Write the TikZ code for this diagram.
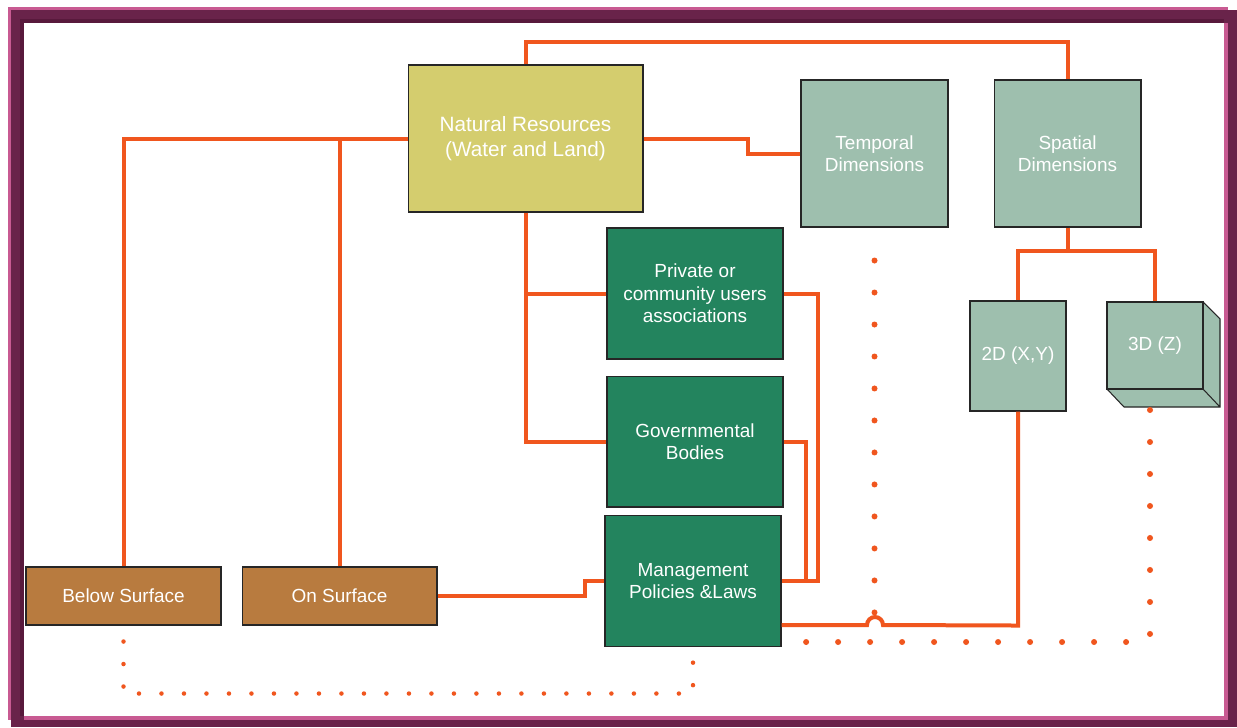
\documentclass[tikz,border=0pt]{standalone}
\usepackage{fontspec}
\setmainfont{Liberation Sans}
\usepackage{tikz}
\usetikzlibrary{positioning}

\definecolor{linkc}{HTML}{F0561E}
\definecolor{olive}{HTML}{D4CD6E}
\definecolor{sage}{HTML}{9EBFAE}
\definecolor{forest}{HTML}{23845E}
\definecolor{clay}{HTML}{B87B3F}
\definecolor{plum}{HTML}{69234A}
\definecolor{plumdark}{HTML}{58193C}
\definecolor{rose}{HTML}{C85A92}

\begin{document}
\begin{tikzpicture}[x=0.02cm, y=-0.02cm,
	box/.style={draw=black!85, line width=0.6pt, inner sep=0pt, align=center, text=white,
		font=\fontsize{10.8pt}{12.8pt}\selectfont},
	res/.style={box, fill=olive, minimum width=4.7cm, minimum height=2.94cm,
		font=\fontsize{11.8pt}{14pt}\selectfont},
	dim/.style={box, fill=sage, minimum width=2.94cm, minimum height=2.94cm},
	actor/.style={box, fill=forest, minimum width=3.52cm, minimum height=2.62cm},
	surf/.style={box, fill=clay, minimum width=3.9cm, minimum height=1.16cm},
	link/.style={draw=linkc, line width=0.08cm},
	dotbig/.style={draw=linkc, line width=0.12cm, line cap=round, dash pattern=on 0pt off 0.64cm},
	dotsmall/.style={draw=linkc, line width=0.09cm, line cap=round, dash pattern=on 0pt off 0.45cm}]
	\useasboundingbox (0,0) rectangle (1237,727);

	% Frame
	\fill [rose]     (8,7)   rectangle (1228,720);
	\fill [plum]     (11,10) rectangle (1237,727);
	\fill [plumdark] (20,19) rectangle (1224,716);
	\fill [rose]     (24,23) rectangle (1228,720);
	\fill [white]    (24,23) rectangle (1224,716);

	% Nodes {nat, temp, spat, priv, gov, mgmt, d2, d3, below, on}
	\node [res]    (nat)   at (525.5,138.5)           {Natural Resources\\(Water and Land)};
	\node [dim]    (temp)  at (874.5,153.5)           {Temporal\\Dimensions};
	\node [dim]    (spat)  [right=0.9cm of temp]      {Spatial\\Dimensions};
	\node [actor]  (priv)  at (695,293.5)             {Private or\\community users\\associations};
	\node [actor]  (gov)   [below=0.32cm of priv]     {Governmental\\Bodies};
	\node [actor]  (mgmt)  at (693,581)               {Management\\Policies \&Laws};
	\node [box, fill=sage, minimum width=1.92cm, minimum height=2.2cm]
	               (d2)    at (1018,356)              {2D (X,Y)};
	\node [surf]   (below) at (123.5,596)             {Below Surface};
	\node [surf]   (on)    [right=0.4cm of below]     {On Surface};

	% 3D cube
	\fill [sage] (1203,302) -- (1220,319) -- (1220,407) -- (1124,407) -- (1107,389) -- (1203,389) -- cycle;
	\draw [black!85, line width=0.6pt] (1203,302) -- (1220,319) -- (1220,407) -- (1124,407) -- (1107,389)
		(1203,389) -- (1220,407);
	\node [box, fill=sage, minimum width=1.92cm, minimum height=1.74cm]
	               (d3)    at (1155,345.5)            {3D (Z)};
	\coordinate (d3base) at (1150,410);
	\coordinate (dotend) at (797,642);

	% Paths
	\path [link] (nat.north)  -- ++(0,-22) -| (spat.north);
	\path [link] (nat.west)   -| (below.north);
	\path [link] (on.north)   -- (on.north |- nat.west);
	\path [link] (nat.east)   -- ++(104,0) |- (temp.west);
	\path [link] (nat.south)  |- (gov.west);
	\path [link] (priv.west)  -- (nat.south |- priv.west);
	\path [link] (priv.east)  -- ++(34,0) |- (mgmt.east);
	\path [link] (gov.east)   -- ++(22,0) |- (mgmt.east);
	\path [link] (on.east)    -- ++(147,0) |- (mgmt.west);
	\path [link] (spat.south) -- ++(0,23) -| (d2.north);
	\path [link] (spat.south) -- ++(0,23) -| (d3.north);
	\path [link] (d2.south)   -- ++(0,214) -- (883,625) arc [start angle=0, end angle=180, radius=0.16cm]
		-- (mgmt.east |- 0,625);

	% Dotted paths
	\path [dotbig]   (temp.south) ++(0,33) -- (temp.south |- dotend);
	\path [dotbig]   (d3base) |- (dotend);
	\path [dotsmall] (below.south) ++(0,16) -- ++(0,52) -| (mgmt.south);
\end{tikzpicture}
\end{document}
